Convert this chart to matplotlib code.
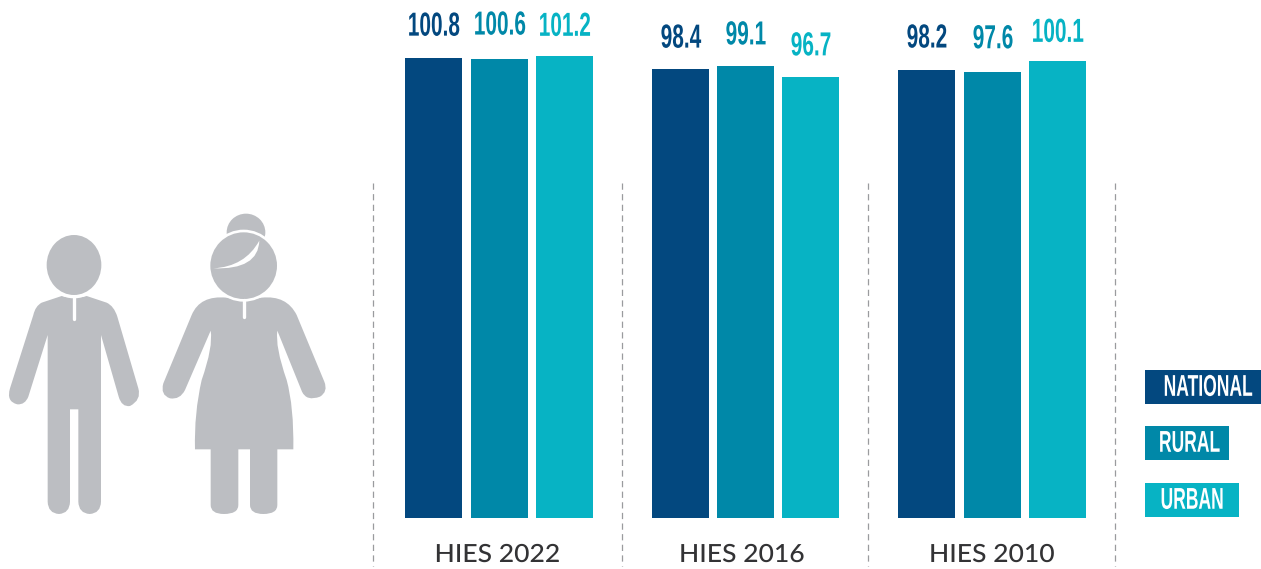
import matplotlib
matplotlib.use("Agg")
import matplotlib.pyplot as plt
from matplotlib.path import Path
from matplotlib.patches import PathPatch, Ellipse, Rectangle
from matplotlib.transforms import Affine2D
import matplotlib.patheffects as pe

# data
surveys = ["HIES 2022", "HIES 2016", "HIES 2010"]
areas = ["NATIONAL", "RURAL", "URBAN"]
national = [100.8, 98.4, 98.2]
rural = [100.6, 99.1, 97.6]
urban = [101.2, 96.7, 100.1]

colors = ["#03487f", "#0088a8", "#07b3c4"]
grey = "#bcbec2"
W, H = 1261, 569
bold_font = ["Liberation Sans", "DejaVu Sans"]

# left edge of the bars in each group
bar_x = [[405, 471, 536], [652, 717, 782], [898, 964, 1029]]
bar_w = 57
# label height above the bar, not the same everywhere in the original
label_gap = [[32, 34, 30], [31, 31, 31], [32, 34, 29]]
survey_x = [497.5, 742, 992]


# no condensed font installed: set the text small and stretch the glyphs up around their centre
class Stretch(pe.AbstractPathEffect):
    def __init__(self, sx, sy):
        super().__init__()
        self.sx = sx
        self.sy = sy

    def draw_path(self, renderer, gc, tpath, affine, rgbFace=None):
        e = tpath.get_extents()
        cx = (e.x0 + e.x1) / 2
        cy = (e.y0 + e.y1) / 2
        st = Affine2D().translate(-cx, -cy).scale(self.sx, self.sy).translate(cx, cy)
        renderer.draw_path(gc, tpath, st + affine, rgbFace)


fig = plt.figure(figsize=(W / 100, H / 100), dpi=100)

# bars axes, y is in data units (4.565 px per unit, base at pixel 518)
ax = fig.add_axes([0, 0, 1, 1])
ax.set_xlim(0, W)
ax.set_ylim(-(H - 518) / 4.565, 518 / 4.565)
ax.axis("off")

# overlay in pixels for the decoration
px = fig.add_axes([0, 0, 1, 1])
px.set_xlim(0, W)
px.set_ylim(H, 0)
px.axis("off")
px.patch.set_alpha(0)

series = [national, rural, urban]
for g in range(3):
    for s in range(3):
        v = series[s][g]
        ax.bar(bar_x[g][s], v, width=bar_w, align="edge", color=colors[s], linewidth=0)
        top = 518 - v * 4.565
        px.text(bar_x[g][s] + bar_w / 2 + 0.5, top - label_gap[g][s], "%.1f" % v, color=colors[s],
                family=bold_font, weight="bold", fontsize=15, ha="center", va="center",
                path_effects=[Stretch(1, 1.6)])
    px.text(survey_x[g], 554.5, surveys[g], color="#333335", family="Lato", weight="medium",
            fontsize=18, ha="center", va="center", path_effects=[Stretch(1.06, 1)])

for x in [373, 622, 868, 1115]:
    px.plot([x, x], [183, 566], color="#9a9b9e", lw=0.9, ls=(0, (5, 3.5)))

# legend boxes
leg_y = [370, 426, 483]
leg_w = [116, 84, 94]
leg_tx = [1208, 1189.5, 1192]
for i in range(3):
    px.add_patch(Rectangle((1145, leg_y[i]), leg_w[i], 34, color=colors[i], lw=0))
    px.text(leg_tx[i], leg_y[i] + 17, areas[i], color="white", family=bold_font, weight="bold",
            fontsize=12.6, ha="center", va="center", path_effects=[Stretch(1, 1.72)])


# people icons, coordinates measured on a 3x crop starting at (0,200)
def shape(parts):
    verts, codes = [], []
    for p in parts:
        if len(p) == 2:
            verts.append(p)
            codes.append(Path.LINETO if verts[:-1] else Path.MOVETO)
        else:
            verts += [p[:2], p[2:]]
            codes += [Path.CURVE3, Path.CURVE3]
    verts.append(verts[0])
    codes.append(Path.CLOSEPOLY)
    verts = [(a / 3, 200 + b / 3) for a, b in verts]
    return Path(verts, codes)


def ell(x, y, rx, ry, c):
    px.add_patch(Ellipse((x / 3, 200 + y / 3), 2 * rx / 3, 2 * ry / 3, color=c, lw=0))


def slit(x, y0, y1):
    px.plot([x / 3, x / 3], [200 + y0 / 3, 200 + y1 / 3], color="white", lw=2.4, solid_capstyle="round")


man = [(185, 288), (222, 300, 260, 288), (320, 308), (342, 318, 352, 350), (415, 565),
       (425, 600, 390, 618), (365, 622, 356, 590), (303, 405), (303, 905), (302, 940, 269, 942),
       (236, 940, 235, 905), (235, 628), (210, 628), (210, 905), (209, 940, 177, 942),
       (144, 940, 143, 905), (143, 405), (85, 590), (75, 615, 52, 613), (18, 605, 30, 565),
       (100, 345), (106, 318, 125, 308)]
px.add_patch(PathPatch(shape(man), color=grey, lw=0))
ell(222, 195, 92, 100, "white")
ell(222, 195, 82, 90, grey)
slit(222, 295, 358)

woman = [(680, 293), (732, 305, 785, 293), (860, 285, 890, 345), (973, 545),
         (985, 575, 960, 590), (920, 605, 906, 575), (832, 392), (825, 440, 860, 540),
         (882, 620, 880, 748), (832, 748), (832, 915), (832, 942, 790, 942),
         (750, 942, 750, 915), (750, 748), (715, 748), (715, 915), (715, 942, 672, 942),
         (632, 942, 632, 915), (632, 748), (585, 748), (582, 640, 605, 540),
         (640, 440, 632, 392), (555, 570), (540, 600, 510, 595), (480, 585, 490, 550),
         (575, 345), (600, 285, 680, 293)]
px.add_patch(PathPatch(shape(woman), color=grey, lw=0))
ell(738, 97, 58, 56, grey)
ell(731, 197, 108, 108, "white")
ell(731, 197, 100, 100, grey)
slit(733, 300, 352)
swoosh = [(640, 205), (735, 200, 778, 122), (775, 210, 640, 205)]
px.add_patch(PathPatch(shape(swoosh), color="white", lw=0))

fig.savefig("out.png", dpi=100)
